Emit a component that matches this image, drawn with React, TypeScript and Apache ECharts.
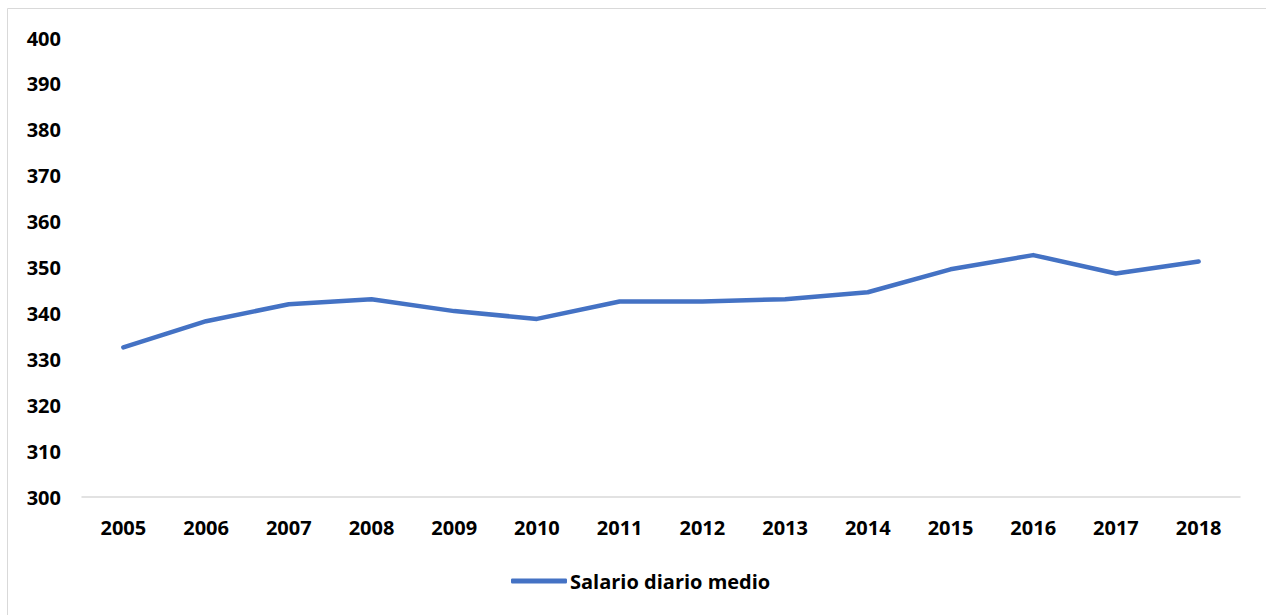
import React, { useEffect, useRef } from "react";
import * as echarts from "echarts";

const years = ["2005","2006","2007","2008","2009","2010","2011","2012","2013","2014","2015","2016","2017","2018"];
const salario = [332.6, 338.3, 342.0, 343.1, 340.5, 338.8, 342.6, 342.6, 343.1, 344.6, 349.6, 352.7, 348.7, 351.3];
const seriesName = "Salario diario medio";
const yMin = 300;
const yMax = 400;
const yStep = 10;

export default function App() {
  const ref = useRef<HTMLDivElement>(null);
  useEffect(() => {
    if (!ref.current) return;
    const chart = echarts.init(ref.current, undefined, { renderer: "svg" });
    const font = "'Open Sans', Lato, sans-serif";
    chart.setOption({
      animation: false,
      backgroundColor: "#ffffff",
      graphic: [
        {
          type: "rect",
          shape: { x: 7.5, y: 8.5, width: 1400, height: 800 },
          style: { fill: "none", stroke: "#d9d9d9", lineWidth: 1 },
          silent: true,
        },
      ],
      grid: { left: 82, right: 26, top: 38, bottom: 118, containLabel: false },
      legend: {
        left: 506,
        top: 566,
        icon: "roundRect",
        itemWidth: 56,
        itemHeight: 5,
        itemGap: 10,
        textStyle: { fontFamily: font, fontWeight: "bold", fontSize: 20, color: "#000", padding: [0, 0, 0, -2] },
        data: [seriesName],
      },
      xAxis: {
        type: "category",
        data: years,
        boundaryGap: true,
        axisLine: { show: true, lineStyle: { color: "#d9d9d9", width: 1.5 } },
        axisTick: { show: false },
        axisLabel: { fontFamily: font, fontWeight: "bold", fontSize: 20, color: "#000", margin: 20 },
      },
      yAxis: {
        type: "value",
        min: yMin,
        max: yMax,
        interval: yStep,
        axisLine: { show: false },
        axisTick: { show: false },
        splitLine: { show: false },
        axisLabel: { fontFamily: font, fontWeight: "bold", fontSize: 20, color: "#000", margin: 21 },
      },
      series: [
        {
          name: seriesName,
          type: "line",
          data: salario,
          showSymbol: false,
          symbol: "none",
          lineStyle: { color: "#4472C4", width: 4.5, cap: "round", join: "round" },
          itemStyle: { color: "#4472C4" },
        },
      ],
    });
    return () => chart.dispose();
  }, []);
  return (
    <div
      ref={ref}
      style={{ position: "absolute", left: 0, top: 0, width: 1266, height: 615 }}
    />
  );
}
